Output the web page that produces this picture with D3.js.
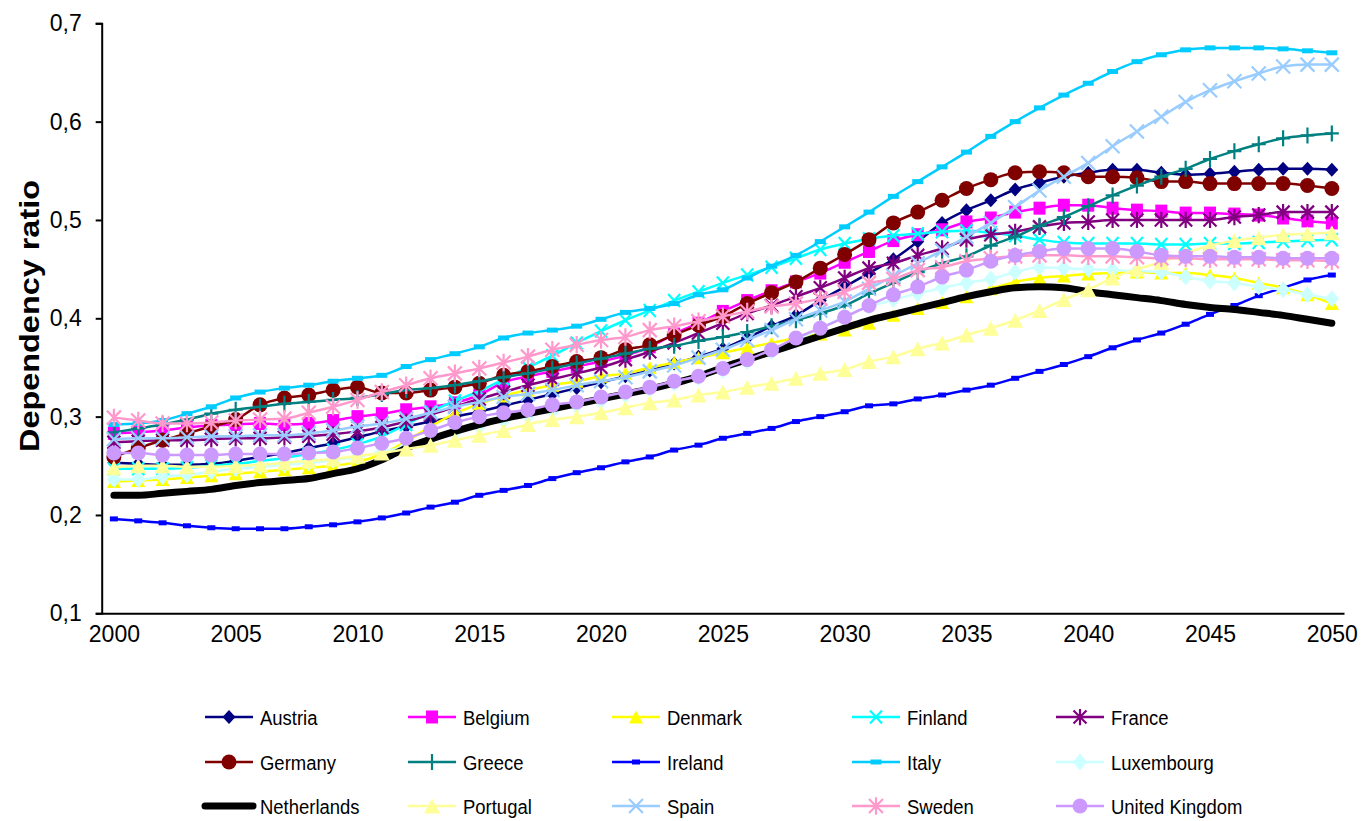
<!DOCTYPE html>
<html><head><meta charset="utf-8">
<script src="https://cdn.jsdelivr.net/npm/d3@7"></script>
<style>body{margin:0;background:#fff;} svg{display:block;} text{font-family:"Liberation Sans",Arial,sans-serif;fill:#000;}</style>
</head><body><svg id="c" width="1367" height="821"></svg>
<script>
const years = d3.range(2000, 2051);
const xTickLabels = [2000, 2005, 2010, 2015, 2020, 2025, 2030, 2035, 2040, 2045, 2050];
const yTickLabels = [0.1, 0.2, 0.3, 0.4, 0.5, 0.6, 0.7];
const countries = ["Austria","Belgium","Denmark","Finland","France","Germany","Greece","Ireland","Italy","Luxembourg","Netherlands","Portugal","Spain","Sweden","United Kingdom"];

const austria = [.253,.252,.251,.251,.252, .255,.259,.263,.268,.273, .279,.285,.29,.295,.3, .305,.311,.317,.323,.329, .335,.341,.347,.354,.361, .369,.38,.392,.403,.418, .432,.446,.46,.478,.497, .51,.52,.531,.538,.544, .548,.551,.551,.548,.546, .547,.549,.551,.552,.552, .551];
const belgium = [.283,.284,.286,.289,.291, .292,.293,.292,.293,.296, .3,.303,.307,.31,.314, .322,.335,.341,.346,.351, .356,.362,.371,.384,.395, .407,.418,.428,.437,.446, .457,.468,.479,.485,.49, .498,.502,.508,.512,.515, .515,.512,.51,.509,.507, .507,.506,.505,.502,.499, .497];
const denmark = [.234,.235,.236,.238,.24, .242,.244,.246,.248,.25, .254,.262,.275,.29,.303, .313,.321,.327,.332,.336, .341,.344,.35,.355,.36, .365,.37,.375,.38,.384, .388,.395,.403,.41,.416, .422,.43,.437,.441,.443, .445,.446,.447,.446,.446, .444,.441,.436,.431,.424, .415];
const finland = [.247,.247,.247,.248,.25, .252,.255,.258,.262,.266, .272,.28,.292,.305,.316, .326,.338,.35,.362,.375, .387,.398,.408,.418,.427, .436,.444,.452,.461,.47, .476,.481,.484,.486,.488, .489,.487,.484,.48,.477, .476,.476,.476,.475,.475, .476,.476,.477,.478,.479, .48];
const france = [.274,.275,.276,.276,.277, .278,.278,.279,.28,.282, .285,.289,.295,.302,.31, .318,.325,.332,.338,.344, .35,.358,.366,.375,.385, .395,.405,.413,.422,.431, .441,.451,.456,.464,.471, .48,.485,.488,.493,.497, .498,.5,.5,.5,.5, .5,.503,.505,.508,.508, .508];
const germany = [.259,.268,.276,.283,.29, .297,.312,.319,.322,.327, .33,.324,.324,.327,.33, .334,.342,.346,.351,.356, .36,.368,.373,.383,.393, .402,.415,.426,.437,.451, .465,.48,.497,.508,.52, .532,.541,.548,.549,.548, .544,.544,.543,.539,.539, .537,.537,.537,.537,.535, .532];
const greece = [.284,.288,.292,.297,.303, .307,.31,.313,.315,.317, .319,.323,.327,.329,.332, .336,.34,.344,.349,.354, .359,.364,.369,.372,.377, .381,.386,.392,.398,.405, .413,.425,.436,.447,.456, .463,.474,.483,.494,.503, .514,.525,.535,.544,.552, .562,.57,.577,.583,.586, .588];
const ireland = [.196,.194,.192,.189,.187, .186,.186,.186,.188,.19, .193,.197,.202,.208,.213, .22,.225,.23,.237,.243, .248,.254,.259,.266,.271, .278,.283,.288,.295,.3, .305,.311,.313,.318,.322, .327,.332,.339,.346,.353, .361,.37,.378,.385,.394, .404,.413,.423,.431,.439, .444];
const italy = [.292,.293,.296,.303,.31, .319,.325,.329,.332,.336, .339,.342,.351,.358,.364, .371,.38,.385,.388,.392, .399,.406,.41,.415,.424, .429,.441,.453,.464,.478, .493,.508,.524,.539,.554, .569,.585,.6,.614,.627, .639,.651,.661,.668,.673, .675,.675,.675,.674,.672, .67];
const luxembourg = [.236,.236,.239,.241,.244, .247,.249,.251,.253,.256, .259,.264,.27,.277,.284, .29,.296,.301,.306,.311, .316,.322,.328,.334,.34, .347,.356,.366,.377,.39, .402,.412,.419,.425,.431, .436,.44,.447,.452,.451, .45,.449,.448,.447,.442, .438,.436,.432,.429,.424, .42];
const netherlands = [.22,.22,.222,.224,.226, .23,.233,.235,.237,.242, .247,.256,.268,.277,.285, .292,.298,.303,.308,.313, .318,.323,.328,.334,.341, .35,.358,.366,.374,.382, .39,.398,.404,.41,.416, .422,.427,.431,.432,.431, .427,.424,.421,.418,.414, .411,.409,.406,.403,.399, .395];
const portugal = [.248,.25,.25,.249,.249, .25,.251,.253,.255,.257, .26,.263,.267,.271,.276, .281,.286,.292,.297,.3, .304,.309,.314,.317,.322, .325,.33,.334,.339,.344, .348,.356,.361,.369,.375, .383,.39,.398,.408,.419, .429,.441,.45,.457,.466, .474,.479,.482,.485,.486, .487];
const spain = [.277,.278,.278,.279,.28, .28,.281,.281,.283,.286, .29,.293,.298,.304,.31, .315,.32,.323,.327,.332, .336,.34,.346,.352,.36, .368,.378,.388,.399,.408, .417,.43,.443,.456,.469, .483,.497,.513,.53,.544, .558,.575,.59,.605,.62, .632,.641,.649,.656,.658, .658];
const sweden = [.299,.296,.293,.293,.294, .296,.297,.298,.304,.31, .317,.325,.332,.339,.344, .349,.355,.361,.368,.373, .378,.381,.388,.392,.397, .402,.407,.412,.415,.42, .427,.436,.44,.449,.452, .458,.461,.463,.464,.464, .463,.463,.462,.461,.461, .46,.46,.46,.459,.459, .458];
const unitedKingdom = [.263,.263,.261,.261,.261, .262,.262,.262,.263,.264, .268,.273,.278,.286,.294, .3,.304,.307,.312,.315, .32,.325,.33,.336,.341, .349,.358,.368,.38,.39, .401,.413,.424,.432,.442, .449,.458,.464,.468,.471, .471,.471,.468,.464,.463, .463,.462,.462,.461,.461, .461];

const seriesValues = [austria, belgium, denmark, finland, france, germany, greece, ireland, italy, luxembourg, netherlands, portugal, spain, sweden, unitedKingdom];

// styles
const styles = [
  {color:"#000080", marker:"diamond", w:6.5, h:7},
  {color:"#FF00FF", marker:"square", w:6, h:6.5},
  {color:"#FFFF00", marker:"triangle", w:7, h:6.5},
  {color:"#00FFFF", marker:"x", w:6, h:6.5},
  {color:"#800080", marker:"asterisk", w:6.5, h:6.5},
  {color:"#800000", marker:"circle", w:7.5, h:7.5},
  {color:"#008080", marker:"plus", w:7, h:8},
  {color:"#0000FF", marker:"dash", w:4, h:2.5},
  {color:"#00CCFF", marker:"dash", w:5.5, h:2.5},
  {color:"#CCFFFF", marker:"diamond", w:7, h:8.5},
  {color:"#000000", marker:"none", lw:7},
  {color:"#FFFF99", marker:"triangle", w:8, h:7.5},
  {color:"#99CCFF", marker:"x", w:7, h:7},
  {color:"#FF99CC", marker:"asterisk", w:7, h:7},
  {color:"#CC99FF", marker:"circle", w:7.5, h:7.5}
];

function shapePath(kind, w, h){
  switch(kind){
    case "diamond": return `M0,${-h}L${w},0L0,${h}L${-w},0Z`;
    case "square": return `M${-w},${-h}H${w}V${h}H${-w}Z`;
    case "triangle": return `M0,${-h}L${w},${h}L${-w},${h}Z`;
    case "x": return `M${-w},${-h}L${w},${h}M${-w},${h}L${w},${-h}`;
    case "asterisk": return `M${-w},${-h}L${w},${h}M${-w},${h}L${w},${-h}M0,${-h*1.25}V${h*1.25}`;
    case "plus": return `M${-w},0H${w}M0,${-h}V${h}`;
    case "circle": return d3.symbol(d3.symbolCircle, Math.PI*w*w)();
    case "dash": return `M${-w},${-h}H${w}V${h}H${-w}Z`;
  }
  return "";
}
const strokedKinds = new Set(["x","asterisk","plus"]);

const svg = d3.select("#c");
const x = d3.scaleLinear().domain([1999.5, 2050.5]).range([101.7, 1344]);
const y = d3.scaleLinear().domain([0.1, 0.7]).range([613.3, 23.3]);

// axes
const yAxis = d3.axisLeft(y).tickValues(yTickLabels).tickSize(6).tickPadding(14)
  .tickFormat(d => d.toFixed(1).replace(".", ","));
const gy = svg.append("g").attr("transform", "translate(101.7,0)").call(yAxis);
gy.select(".domain").attr("stroke", "#000").attr("stroke-width", 2);
gy.selectAll(".tick line").attr("stroke", "#000").attr("stroke-width", 2);
gy.selectAll(".tick text").attr("font-size", 23).attr("font-family", "Liberation Sans, Arial, sans-serif").attr("fill", "#000");

const xAxis = d3.axisBottom(x).tickValues(xTickLabels).tickSize(0).tickPadding(12).tickFormat(d3.format("d"));
const gx = svg.append("g").attr("transform", "translate(0,613.3)").call(xAxis);
gx.select(".domain").attr("stroke", "#000").attr("stroke-width", 2);
gx.selectAll(".tick text").attr("font-size", 23).attr("font-family", "Liberation Sans, Arial, sans-serif").attr("fill", "#000");

// y label
svg.append("text")
  .attr("transform", "translate(39,316) rotate(-90)")
  .attr("text-anchor", "middle")
  .attr("font-size", 28).attr("font-weight", "bold")
  .attr("textLength", 272).attr("lengthAdjust", "spacingAndGlyphs")
  .text("Dependency ratio");

// lines
const line = d3.line().x((d,i) => x(years[i])).y(d => y(d)).curve(d3.curveMonotoneX);
const plot = svg.append("g");
seriesValues.forEach((vals, si) => {
  const st = styles[si];
  const g = plot.append("g");
  g.append("path").attr("d", line(vals)).attr("fill", "none")
    .attr("stroke", st.color).attr("stroke-width", st.lw || 2.5)
    .attr("stroke-linecap", "round").attr("stroke-linejoin", "round");
  if (st.marker !== "none") {
    const p = shapePath(st.marker, st.w, st.h);
    const stroked = strokedKinds.has(st.marker);
    g.selectAll("path.m").data(vals).join("path").attr("class", "m")
      .attr("transform", (d,i) => `translate(${x(years[i])},${y(d)})`)
      .attr("d", p)
      .attr("fill", stroked ? "none" : st.color)
      .attr("stroke", stroked ? st.color : "none")
      .attr("stroke-width", stroked ? 2.2 : 0);
  }
});

// legend
const colX = [205, 408, 612, 852, 1056];
const rowY = [717, 762, 806];
const legend = svg.append("g");
countries.forEach((name, i) => {
  const st = styles[i];
  const cx = colX[i % 5], cy = rowY[Math.floor(i / 5)];
  const g = legend.append("g");
  g.append("line").attr("x1", cx).attr("x2", cx + 48).attr("y1", cy).attr("y2", cy)
    .attr("stroke", st.color).attr("stroke-width", st.lw || 2.5)
    .attr("stroke-linecap", st.lw ? "round" : "butt");
  if (st.marker !== "none") {
    const stroked = strokedKinds.has(st.marker);
    g.append("path").attr("transform", `translate(${cx + 24},${cy})`)
      .attr("d", shapePath(st.marker, st.w, st.h))
      .attr("fill", stroked ? "none" : st.color)
      .attr("stroke", stroked ? st.color : "none")
      .attr("stroke-width", stroked ? 2.2 : 0);
  }
  g.append("text").attr("transform", `translate(${cx + 55},${cy + 7.5}) scale(0.88,1)`)
    .attr("font-size", 21).text(name);
});
</script></body></html>
